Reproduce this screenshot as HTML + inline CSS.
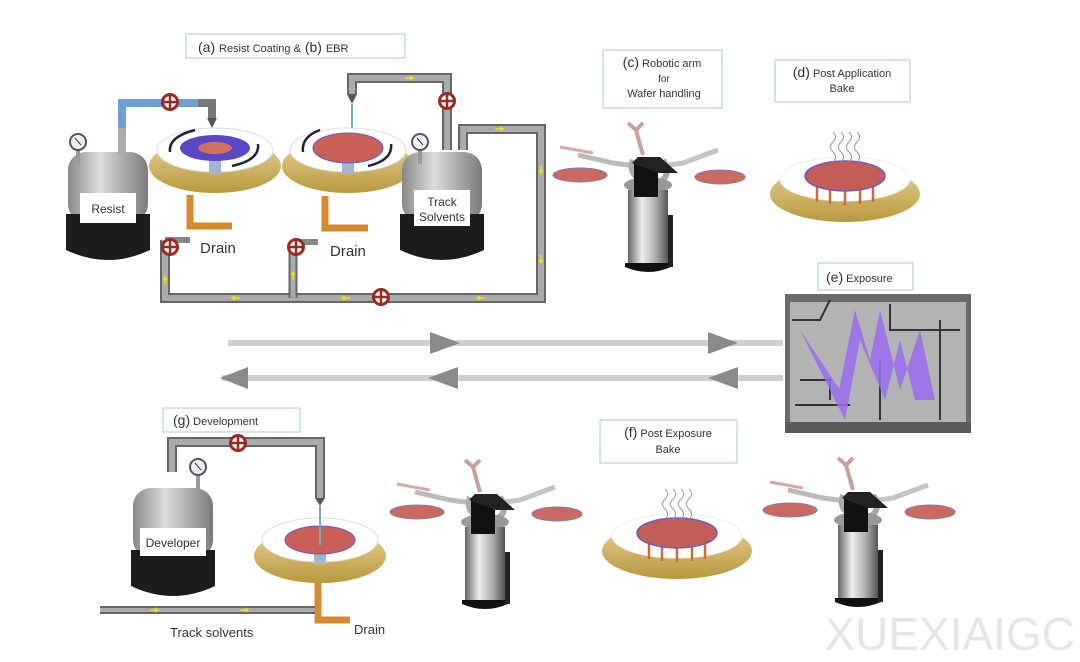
<!DOCTYPE html>
<html><head><meta charset="utf-8"><style>
html,body{margin:0;padding:0;background:#fff}
svg{display:block}
text{font-family:"Liberation Sans",Arial,sans-serif;fill:#333}
</style></head><body>
<svg width="1080" height="662" viewBox="0 0 1080 662" xmlns="http://www.w3.org/2000/svg">
<defs>
<linearGradient id="cyl" x1="0" x2="1"><stop offset="0" stop-color="#666"/><stop offset="0.35" stop-color="#eee"/><stop offset="0.7" stop-color="#aaa"/><stop offset="1" stop-color="#555"/></linearGradient>
<linearGradient id="tank" x1="0" x2="1"><stop offset="0" stop-color="#888"/><stop offset="0.4" stop-color="#ddd"/><stop offset="1" stop-color="#7a7a7a"/></linearGradient>
<linearGradient id="gold" x1="0" y1="0" x2="0" y2="1"><stop offset="0" stop-color="#e6d197"/><stop offset="1" stop-color="#b9993e"/></linearGradient>
<g id="valve"><circle r="7.5" fill="#fff" stroke="#9c2a22" stroke-width="3"/><path d="M-7 0H7M0-7V7" stroke="#9c2a22" stroke-width="2.5"/></g>
<g id="gauge"><line x1="0" y1="8" x2="0" y2="22" stroke="#999" stroke-width="4"/><circle r="8" fill="#eef" stroke="#555" stroke-width="2"/><line x1="-3" y1="-4" x2="3" y2="3" stroke="#333"/></g>
<g id="arm">
<path d="M-70-20 L-35-12 L-5-8" stroke="#bbb" stroke-width="5" fill="none"/>
<path d="M-88-28 L-55-22" stroke="#d7aaa5" stroke-width="3" fill="none"/>
<path d="M70-25 L35-12 L5-8" stroke="#c4c4c4" stroke-width="5" fill="none"/>
<path d="M-12-45 L-5-20 M-20-52 L-12-45 L-5-52" stroke="#c9a09b" stroke-width="4" fill="none"/>
<path d="M-15-15 Q-20 0 -5 5 M15-15 Q25 0 10 8" stroke="#aaa" stroke-width="6" fill="none"/>
<ellipse cx="-68" cy="0" rx="27" ry="7" fill="#c96a5e" stroke="#8a7ab8"/>
<ellipse cx="72" cy="2" rx="25" ry="7" fill="#c96a5e" stroke="#8a7ab8"/>
<ellipse cx="0" cy="10" rx="24" ry="8" fill="#999"/>
<rect x="-20" y="15" width="40" height="78" fill="url(#cyl)"/>
<path d="M-23 92 Q0 102 23 92 L23 88 L-23 88Z" fill="#111"/>
<rect x="20" y="40" width="5" height="52" fill="#222"/>
<rect x="-14" y="-12" width="24" height="34" fill="#111"/>
<path d="M-16-12 L-10-18 H12 L30-2 H10Z" fill="#222"/>
</g>
<g id="bake">
<ellipse cx="0" cy="18" rx="75" ry="28" fill="url(#gold)"/>
<ellipse cx="0" cy="3" rx="65" ry="22" fill="#fff" stroke="#eee"/>
<path d="M-28 8V26M-15 10V28M0 10V29M15 10V28M28 8V26" stroke="#d0693b" stroke-width="2.5"/>
<ellipse cx="0" cy="0" rx="40" ry="15" fill="#c25e55" stroke="#6a5cc5" stroke-width="1.5"/>
<path d="M-12-14 q5-5 0-10 q-5-5 0-10 q5-5 0-10M-4-14 q5-5 0-10 q-5-5 0-10 q5-5 0-10M4-14 q5-5 0-10 q-5-5 0-10 q5-5 0-10M12-14 q5-5 0-10 q-5-5 0-10 q5-5 0-10" stroke="#999" fill="none"/>
</g>
<g id="coater">
<ellipse cx="0" cy="16" rx="66" ry="27" fill="url(#gold)"/>
<ellipse cx="0" cy="0" rx="58" ry="22" fill="#fff" stroke="#ddd"/>
<rect x="-6" y="8" width="12" height="16" fill="#9fb6d0"/>
</g>
<g id="tk">
<rect x="-40" y="0" width="80" height="70" rx="18" fill="url(#tank)"/>
<path d="M-42 62 H42 V98 Q0 118 -42 98Z" fill="#1c1c1c"/>
</g>
</defs>

<!-- top pipes -->
<path d="M122 132 V103 H205" stroke="#6ea0d4" stroke-width="8" fill="none"/>
<path d="M198 103 H212 V118" stroke="#777" stroke-width="8" fill="none"/>
<path d="M207 118 H217 L212 128Z" fill="#555"/>
<g fill="none" stroke-linejoin="miter">
<path d="M352 94 V78 H447 V150" stroke="#666" stroke-width="10"/>
<path d="M352 94 V78 H447 V150" stroke="#aaa" stroke-width="6"/>
<path d="M463 150 V129 H541 V298 H165 V240" stroke="#666" stroke-width="10"/>
<path d="M463 150 V129 H541 V298 H165 V240" stroke="#aaa" stroke-width="6"/>
<path d="M293 298 V242" stroke="#666" stroke-width="9"/>
<path d="M293 298 V242" stroke="#aaa" stroke-width="5"/>
</g>
<path d="M165 240 H190 M293 242 H318" stroke="#888" stroke-width="6"/>
<path d="M347 94 H357 L352 104Z" fill="#555"/>
<line x1="352" y1="104" x2="352" y2="140" stroke="#7ab" stroke-width="2"/>
<g stroke="#f0e010" stroke-width="1.5" fill="none">
<path d="M405 78h8m-3-2l3 2-3 2"/>
<path d="M495 129h8m-3-2l3 2-3 2"/>
<path d="M541 165v8m-2-3l2 3 2-3"/><path d="M541 255v8m-2-3l2 3 2-3"/>
<path d="M485 298h-8m3-2l-3 2 3 2"/><path d="M350 298h-8m3-2l-3 2 3 2"/><path d="M240 298h-8m3-2l-3 2 3 2"/>
<path d="M165 285v-8m-2 3l2-3 2 3"/><path d="M293 280v-8m-2 3l2-3 2 3"/>
<path d="M108 610h8m-3-2l3 2-3 2"/><path d="M160 610h8m-3-2l3 2-3 2"/>
</g>
<!-- drains -->
<path d="M190 195 V226 H232" stroke="#d58a2e" stroke-width="7" fill="none"/>
<path d="M325 196 V228 H368" stroke="#d58a2e" stroke-width="7" fill="none"/>
<!-- coaters -->
<use href="#coater" x="215" y="150"/>
<ellipse cx="215" cy="148" rx="35" ry="13" fill="#5b46c6"/>
<ellipse cx="215" cy="148" rx="17" ry="6" fill="#d07060"/>
<use href="#coater" x="348" y="150"/>
<ellipse cx="348" cy="148" rx="35" ry="15" fill="#c96058" stroke="#6a5cc5"/>
<g stroke="#223" stroke-width="2.5" fill="none"><path d="M170 152 Q168 137 195 130"/><path d="M258 144 Q260 160 232 166"/><path d="M303 152 Q301 137 320 130"/><path d="M391 144 Q393 160 368 166"/></g>
<!-- tanks -->
<use href="#tk" x="108" y="152"/>
<rect x="80" y="193" width="56" height="30" fill="#fff"/><text x="108" y="213" font-size="12" text-anchor="middle">Resist</text>
<use href="#gauge" x="78" y="142"/>
<path d="M118 128 h8 v26 h-8z" fill="#aaa"/>
<use href="#tk" x="442" y="152"/>
<rect x="414" y="190" width="56" height="36" fill="#fff"/><text x="442" y="206" font-size="12" text-anchor="middle">Track</text><text x="442" y="221" font-size="12" text-anchor="middle">Solvents</text>
<use href="#gauge" x="420" y="142"/>
<text x="200" y="253" font-size="15" fill="#222">Drain</text>
<text x="330" y="256" font-size="15" fill="#222">Drain</text>
<use href="#valve" x="170" y="102"/><use href="#valve" x="447" y="101"/>
<use href="#valve" x="170" y="247"/><use href="#valve" x="296" y="247"/><use href="#valve" x="381" y="297"/>
<rect x="186" y="34" width="219" height="24" fill="#fff" stroke="#a8c8dc"/>
<text x="198" y="52" font-size="14">(a) <tspan font-size="11">Resist Coating &amp;</tspan>  (b) <tspan font-size="11">EBR</tspan></text>

<!-- c -->
<rect x="603" y="50" width="119" height="58" fill="#fff" stroke="#a8c8dc"/>
<text x="662" y="67" font-size="11" text-anchor="middle"><tspan font-size="14">(c)</tspan> Robotic arm</text>
<text x="664" y="82" font-size="10" text-anchor="middle">for</text>
<text x="664" y="97" font-size="11" text-anchor="middle">Wafer handling</text>
<use href="#arm" x="648" y="175"/>
<!-- d -->
<rect x="775" y="60" width="135" height="42" fill="#fff" stroke="#a8c8dc"/>
<text x="842" y="77" font-size="11" text-anchor="middle"><tspan font-size="14">(d)</tspan> Post Application</text>
<text x="842" y="92" font-size="11" text-anchor="middle">Bake</text>
<use href="#bake" x="845" y="176"/>

<!-- arrows -->
<rect x="228" y="340" width="555" height="6" fill="#cfcfcf"/>
<rect x="222" y="375" width="561" height="6" fill="#cfcfcf"/>
<path d="M430 332 L460 343 L430 354Z M708 332 L738 343 L708 354Z" fill="#8a8a8a"/>
<path d="M248 367 L220 378 L248 389Z M458 367 L428 378 L458 389Z M738 367 L708 378 L738 389Z" fill="#8a8a8a"/>

<!-- e -->
<rect x="818" y="263" width="95" height="27" fill="#fff" stroke="#a8c8dc"/>
<text x="826" y="282" font-size="11"><tspan font-size="14">(e)</tspan> Exposure</text>
<rect x="785" y="294" width="186" height="139" fill="#6a6a6a"/>
<rect x="790" y="302" width="176" height="122" fill="#b3b3b3"/>
<path d="M792 320 H820 L830 300 M890 304 V330 H960 M800 380 H830 V400 M940 320 V420 M880 360 V420 M795 405 H850" stroke="#333" stroke-width="2" fill="none"/>
<path d="M800 330 L840 390 L835 410 L855 310 L870 360 L880 310 L900 390 L920 330 L935 400 L915 400 L900 340 L885 400 L860 340 L845 420 L820 370Z" fill="#9a6cf0" opacity="0.85"/>
<rect x="785" y="422" width="186" height="11" fill="#5a5a5a"/>

<!-- g -->
<rect x="163" y="408" width="137" height="24" fill="#fff" stroke="#a8c8dc"/>
<text x="173" y="425" font-size="11"><tspan font-size="14">(g)</tspan> Development</text>
<path d="M172 472 V442 H320 V498" stroke="#666" stroke-width="10" fill="none"/>
<path d="M172 472 V442 H320 V498" stroke="#aaa" stroke-width="6" fill="none"/>
<use href="#valve" x="238" y="443"/>
<path d="M315 498 H325 L320 506Z" fill="#555"/>
<use href="#tk" x="173" y="488"/>
<rect x="140" y="528" width="66" height="28" fill="#fff"/><text x="173" y="547" font-size="12" text-anchor="middle">Developer</text>
<use href="#gauge" x="198" y="467"/>
<path d="M318 575 V620 H350" stroke="#d58a2e" stroke-width="7" fill="none"/>
<use href="#coater" x="320" y="540"/>
<ellipse cx="320" cy="540" rx="35" ry="14" fill="#c96058" stroke="#6a5cc5"/>
<line x1="320" y1="506" x2="320" y2="545" stroke="#7ab" stroke-width="2"/>
<rect x="100" y="606" width="215" height="8" fill="#666"/>
<rect x="100" y="608" width="215" height="4" fill="#aaa"/>
<g stroke="#f0e010" stroke-width="1.5" fill="none"><path d="M150 610h8m-3-2l3 2-3 2"/><path d="M240 610h8m-3-2l3 2-3 2"/></g>
<text x="170" y="637" font-size="13" fill="#222">Track solvents</text>
<text x="354" y="634" font-size="13" fill="#222">Drain</text>

<use href="#arm" x="485" y="512"/>
<rect x="600" y="420" width="137" height="43" fill="#fff" stroke="#a8c8dc"/>
<text x="668" y="437" font-size="11" text-anchor="middle"><tspan font-size="14">(f)</tspan> Post Exposure</text>
<text x="668" y="453" font-size="11" text-anchor="middle">Bake</text>
<use href="#bake" x="677" y="533"/>
<use href="#arm" x="858" y="510"/>

<text x="1075" y="650" font-size="46" text-anchor="end" style="fill:#e6e6e6">XUEXIAIGC</text>
</svg>
</body></html>
